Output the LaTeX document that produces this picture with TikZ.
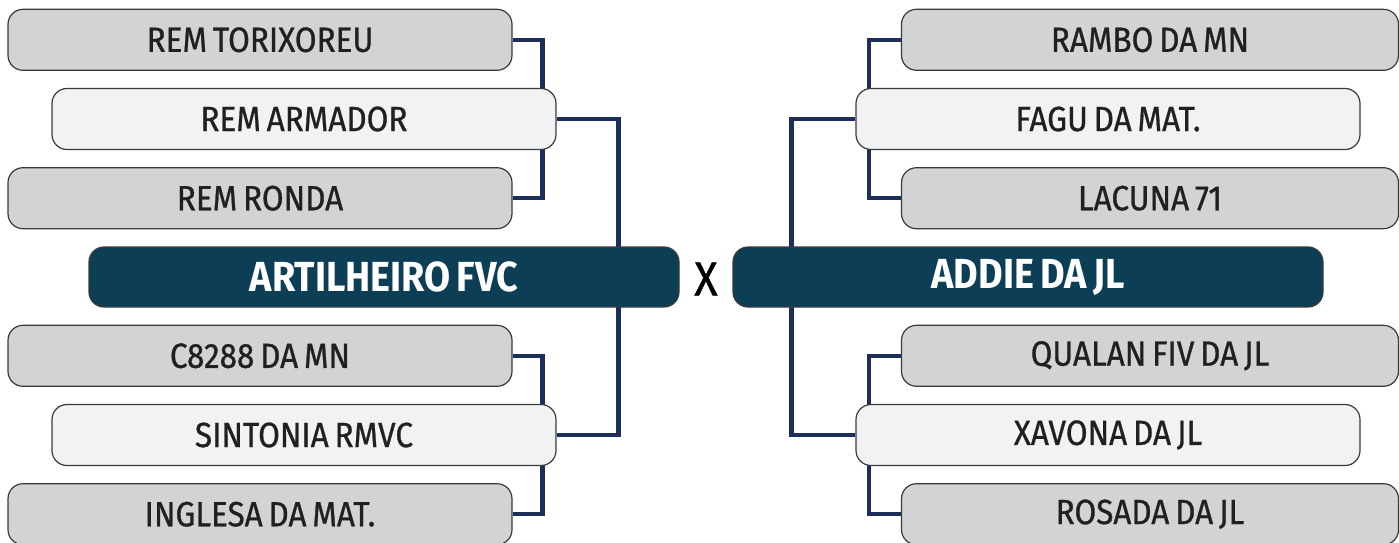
\documentclass[tikz,border=0pt]{standalone}
\usepackage{fontspec}
\setmainfont[FakeStretch=0.9, WordSpace=0.7]{Fira Sans}
\newfontfamily\teamfont[FakeStretch=0.9, FakeBold=0.8, WordSpace=0.7]{Fira Sans}
\usepackage{tikz}
\usetikzlibrary{positioning, backgrounds}
\definecolor{grayfill}{HTML}{D1D3D4}
\definecolor{lightfill}{HTML}{F1F2F4}
\definecolor{finalfill}{HTML}{0C3F56}
\definecolor{edgegray}{HTML}{3A3A3A}
\definecolor{linknavy}{HTML}{1B2F5A}
\definecolor{inkdark}{HTML}{231F20}
\tikzset{
    graybox/.style={rectangle, draw=edgegray, line width=1.2pt, rounded corners=15pt, fill=grayfill, text=inkdark, minimum width=504pt, minimum height=61pt, font=\teamfont\fontsize{35}{38}\selectfont},
    lightbox/.style={graybox, fill=lightfill},
    finalbox/.style={rectangle, draw=edgegray, line width=1.2pt, rounded corners=15pt, fill=finalfill, text=white, minimum width=590pt, minimum height=60pt, font=\fontsize{42}{44}\selectfont\bfseries},
    link/.style={draw=linknavy, line width=4.5pt}
}
\begin{document}
\begin{tikzpicture}[x=1pt, y=-1pt, node distance=17pt]
    \clip (0,0) rectangle (1399,543);
    \useasboundingbox (0,0) rectangle (1399,543);
    % left side
    \node[lightbox] (armador) at (304,119) {REM ARMADOR};
    \node[graybox, above=of armador, xshift=-44pt] (torixoreu) {REM TORIXOREU};
    \node[graybox, below=of armador, xshift=-44pt] (ronda) {REM RONDA};
    \node[finalbox] (artilheiro) at (384,277) {ARTILHEIRO FVC};
    \node[lightbox] (sintonia) at (304,435) {SINTONIA RMVC};
    \node[graybox, above=of sintonia, xshift=-44pt] (c8288) {C8288 DA MN};
    \node[graybox, below=of sintonia, xshift=-44pt] (inglesa) {INGLESA DA MAT.};
    % right side
    \node[lightbox] (fagu) at (1108,119) {FAGU DA MAT.};
    \node[graybox, minimum width=497pt, above=of fagu, xshift=42pt] (rambo) {RAMBO DA MN};
    \node[graybox, minimum width=497pt, below=of fagu, xshift=42pt] (lacuna) {LACUNA 71};
    \node[finalbox] (addie) at (1028,277) {ADDIE DA JL};
    \node[lightbox] (xavona) at (1108,435) {XAVONA DA JL};
    \node[graybox, minimum width=497pt, above=of xavona, xshift=42pt] (qualan) {QUALAN FIV DA JL};
    \node[graybox, minimum width=497pt, below=of xavona, xshift=42pt] (rosada) {ROSADA DA JL};
    % versus
    \node[text=black, font=\teamfont\fontsize{48}{50}\selectfont] (versus) at (706,279) {X};
    % bracket lines
    \begin{scope}[on background layer]
        \draw[link] (torixoreu.east) -- ++(30,0) |- (ronda.east);
        \draw[link] (c8288.east) -- ++(30,0) |- (inglesa.east);
        \draw[link] (armador.east) -- ++(62,0) |- (sintonia.east);
        \draw[link] (rambo.west) -- ++(-32,0) |- (lacuna.west);
        \draw[link] (qualan.west) -- ++(-32,0) |- (rosada.west);
        \draw[link] (fagu.west) -- ++(-64,0) |- (xavona.west);
    \end{scope}
\end{tikzpicture}
\end{document}
